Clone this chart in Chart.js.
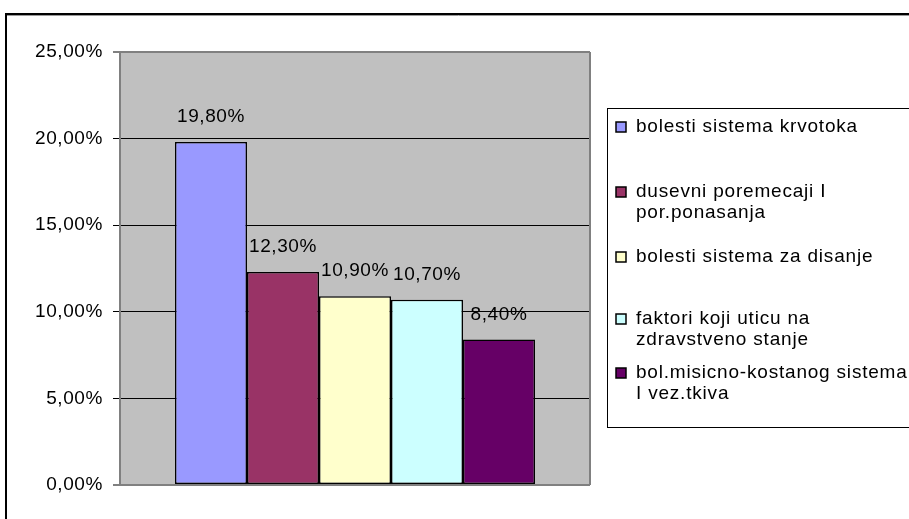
<!DOCTYPE html>
<html>
<head>
<meta charset="utf-8">
<script src="https://cdn.jsdelivr.net/npm/chart.js@4.4.0/dist/chart.umd.min.js"></script>
<style>
  html, body { margin: 0; padding: 0; background: #fff; }
</style>
</head>
<body>
<canvas id="grafikon" width="909" height="519"></canvas>
<script>
// oboljenja (redovi legende) i procenti
const oboljenja = [
    ['bolesti sistema krvotoka'],
    ['dusevni poremecaji I', 'por.ponasanja'],
    ['bolesti sistema za disanje'],
    ['faktori koji uticu na', 'zdravstveno stanje'],
    ['bol.misicno-kostanog sistema', 'I vez.tkiva']
];
const procenti = [19.8, 12.3, 10.9, 10.7, 8.4];
const yPodeoci = [0, 5, 10, 15, 20, 25];

const boje = ['#9999ff', '#993366', '#ffffcc', '#ccffff', '#660066'];
const FONT = '"Liberation Sans", Arial, sans-serif';
const RAZMAK = '0.6px';

const fmt = v => Number(v).toFixed(2).replace('.', ',') + '%';

// y pozicije redova legende (sredina prvog reda teksta)
const legendaY = [127, 192, 257, 319, 373];

const okvir = {
    id: 'okvir',
    beforeLayout(chart) { chart.ctx.letterSpacing = RAZMAK; },
    beforeDraw(chart) {
        const { ctx, chartArea: a } = chart;
        ctx.letterSpacing = RAZMAK;
        ctx.save();
        ctx.fillStyle = '#fff';
        ctx.fillRect(0, 0, chart.width, chart.height);
        // siva pozadina grafika
        ctx.fillStyle = '#c0c0c0';
        ctx.fillRect(a.left, a.top, a.right - a.left, a.bottom - a.top);
        // spoljni okvir
        ctx.strokeStyle = '#000';
        ctx.lineWidth = 2;
        ctx.beginPath();
        ctx.moveTo(6, 530);
        ctx.lineTo(6, 14);
        ctx.lineTo(920, 14);
        ctx.stroke();
        ctx.strokeStyle = '#999';
        ctx.lineWidth = 1;
        ctx.beginPath();
        ctx.moveTo(7, 15.5);
        ctx.lineTo(920, 15.5);
        ctx.stroke();
        ctx.restore();
    },
    afterDraw(chart) {
        const { ctx, chartArea: a } = chart;
        ctx.save();
        ctx.letterSpacing = RAZMAK;
        // desna ivica grafika
        ctx.strokeStyle = '#808080';
        ctx.lineWidth = 2;
        ctx.beginPath();
        ctx.moveTo(a.right, a.top);
        ctx.lineTo(a.right, a.bottom);
        ctx.stroke();

        // vrednosti iznad stubica
        ctx.fillStyle = '#000';
        ctx.font = '19px ' + FONT;
        ctx.textAlign = 'center';
        ctx.textBaseline = 'middle';
        chart.data.datasets.forEach((ds, i) => {
            const el = chart.getDatasetMeta(i).data[0];
            ctx.fillText(fmt(ds.data[0]), el.x, el.y - 25);
        });

        // legenda
        ctx.strokeStyle = '#000';
        ctx.lineWidth = 1;
        ctx.strokeRect(607.5, 108.5, 320, 319);
        ctx.textAlign = 'left';
        ctx.letterSpacing = '0.8px';
        oboljenja.forEach((redovi, i) => {
            const y0 = legendaY[i];
            ctx.fillStyle = boje[i];
            ctx.fillRect(616, y0 - 5, 10, 10);
            ctx.strokeStyle = '#000';
            ctx.lineWidth = 1.5;
            ctx.strokeRect(616, y0 - 5, 10, 10);
            ctx.fillStyle = '#000';
            redovi.forEach((tekst, j) => {
                ctx.fillText(tekst, 636, y0 + j * 21);
            });
        });
        ctx.restore();
    }
};

new Chart(document.getElementById('grafikon'), {
    type: 'bar',
    data: {
        labels: [''],
        datasets: oboljenja.map((redovi, i) => ({
            label: redovi.join(' '),
            data: [procenti[i]],
            backgroundColor: boje[i],
            borderColor: '#000',
            borderWidth: 1.5,
            borderSkipped: false,
            categoryPercentage: 0.766,
            barPercentage: 1
        }))
    },
    options: {
        responsive: false,
        animation: false,
        layout: { padding: { left: 0, right: 319, top: 52, bottom: 34 } },
        plugins: {
            legend: { display: false },
            tooltip: { enabled: false }
        },
        scales: {
            x: { display: false },
            y: {
                min: 0,
                max: 25,
                afterBuildTicks(scale) { scale.ticks = yPodeoci.map(v => ({ value: v })); },
                afterFit(scale) { scale.width = 120; },
                ticks: {
                    callback: v => fmt(v),
                    color: '#000',
                    font: { family: FONT, size: 19 },
                    padding: 10
                },
                grid: {
                    color: c => (c.tick && (c.tick.value === 0 || c.tick.value === 25)) ? '#808080' : '#000',
                    lineWidth: c => (c.tick && (c.tick.value === 0 || c.tick.value === 25)) ? 2 : 1,
                    tickLength: 7
                },
                border: { color: '#808080', width: 2 }
            }
        }
    },
    plugins: [okvir]
});
</script>
</body>
</html>
